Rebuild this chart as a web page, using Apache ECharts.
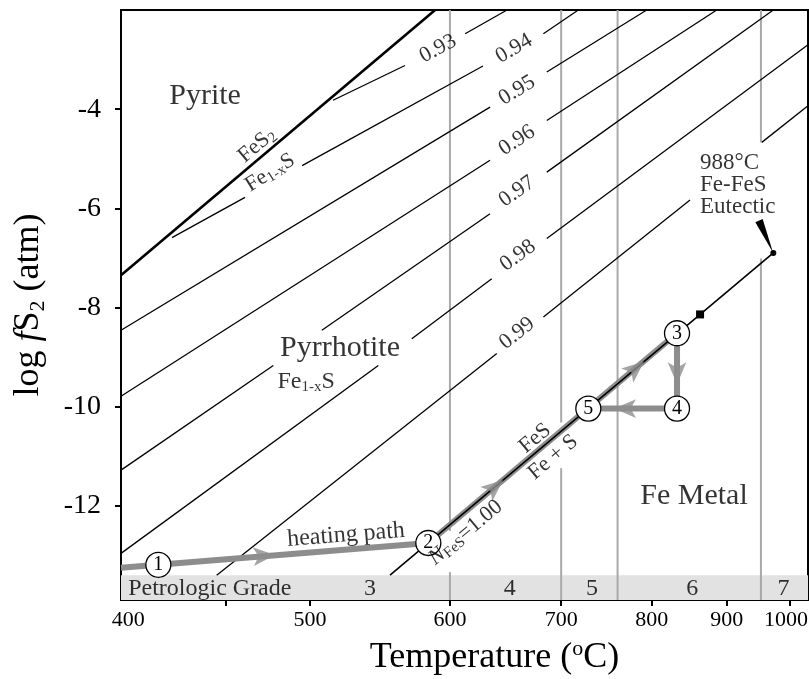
<!DOCTYPE html>
<html>
<head>
<meta charset="utf-8">
<script src="https://cdn.jsdelivr.net/npm/echarts@6/dist/echarts.min.js"></script>
<style>
    html, body { margin: 0; padding: 0; background: #fff; }
    #chart { width: 809px; height: 679px; }
</style>
</head>
<body>
<div id="chart"></div>
<script>
// Temperatures in °C, fugacity as log fS2 (atm)
var tempTicks = [400, 500, 600, 700, 800, 900, 1000];
var minorTempTicks = [450];
var logfTicks = [-12, -10, -8, -6, -4];

var T_MIN = 396.5, T_MAX = 1031.6;
var LOGF_MIN = -13.9, LOGF_MAX = -2.0;
var GRADE_TOP = -13.4;

// petrologic grade bands
var gradeNames = ['3', '4', '5', '6', '7'];
var gradeLabelTemps = [540, 651, 732, 852, 989];
var gradeLine600 = [[[600, -2.0], [600, -12.51]], [[600, -13.34], [600, -13.9]]];
var gradeLine700 = [[[700, -2.0], [700, -10.32]], [[700, -11.24], [700, -13.9]]];
var gradeLine760 = [[[760, -2.0], [760, -13.9]]];
var gradeLine950 = [[[952, -2.0], [952, -4.67]], [[952, -7.01], [952, -13.9]]];

// N_FeS isopleths (segments, broken where labels sit)
var isoNames = ['0.93', '0.94', '0.95', '0.96', '0.97', '0.98', '0.99'];
var iso093 = [[[514.9, -3.82], [565.2, -3.12]], [[612.4, -2.48], [648.6, -2.0]]];
var iso094 = [[[421.6, -6.59], [461.0, -5.78]], [[495.1, -5.14], [627.5, -3.13]], [[682.5, -2.48], [717.5, -2.0]]];
var iso095 = [[[396.5, -8.46], [633.6, -3.96]], [[685.8, -3.25], [794.0, -2.0]]];
var iso096 = [[[396.5, -9.79], [633.6, -5.03]], [[685.8, -4.23], [885.6, -2.0]]];
var iso097 = [[[396.5, -11.28], [477.5, -9.17]], [[507.6, -8.46], [633.6, -6.11]], [[685.8, -5.27], [972.0, -2.0]]];
var iso098 = [[[396.5, -12.96], [545.8, -9.17]], [[570.3, -8.63], [635.1, -7.42]], [[685.8, -6.61], [1031.6, -2.70]]];
var iso099 = [[[445.2, -13.40], [639.5, -8.93]], [[682.5, -8.19], [848.9, -5.83]], [[953.3, -4.67], [1031.6, -3.93]]];
var isoLabelTemps = [590.5, 655.0, 657.7, 657.7, 657.7, 658.6, 657.7];
var isoLabelLogf = [-2.78, -2.78, -3.62, -4.63, -5.66, -6.95, -8.52];

// phase boundaries
var pyriteLine = [[[396.5, -7.35], [588.2, -2.0]]];
var feFesLine = [[[554.2, -13.40], [972.0, -6.90]]];
var eutectic = [972.0, -6.90];
var squarePoint = [862.4, -8.14];

// heating path: start, then points 1..5
var pathTemps = [396.5, 414.7, 582.9, 831.8, 831.8, 728.0];
var pathLogf = [-13.25, -13.19, -12.75, -8.52, -10.04, -10.04];
var arrowTemps = [478.6, 645.1, 790.8, 831.8, 756.0];
var arrowLogf = [-12.99, -11.48, -9.09, -9.55, -10.04];

function toU(t) {
    return 1000 / (t + 273.15);
}

var serif = "'Liberation Serif', 'DejaVu Serif', serif";
var richText = {
    sub: { fontFamily: serif, fontSize: 15, lineHeight: 12, verticalAlign: 'bottom', color: '#000' },
    it: { fontFamily: serif, fontStyle: 'italic', color: '#000' }
};

function segSeries(segs, color, width, z) {
    return {
        type: 'lines',
        coordinateSystem: 'cartesian2d',
        polyline: true,
        silent: true,
        z: z,
        lineStyle: { color: color, width: width, opacity: 1, curveness: 0 },
        data: segs.map(function (s) {
            return { coords: s.map(function (p) { return [toU(p[0]), p[1]]; }) };
        })
    };
}

var chart = echarts.init(document.getElementById('chart'));

var gradeSeries = segSeries(
    gradeLine600.concat(gradeLine700, gradeLine760, gradeLine950), '#a9a9a9', 2, 2);
gradeSeries.markArea = {
    silent: true,
    itemStyle: { color: '#e2e2e2' },
    data: [[{ coord: [toU(T_MAX), LOGF_MIN] }, { coord: [toU(T_MIN), GRADE_TOP] }]]
};
gradeSeries.z = 1;

var isoSeries = segSeries(
    iso093.concat(iso094, iso095, iso096, iso097, iso098, iso099), '#000', 1.3, 3);

var pathPts = pathTemps.map(function (t, i) { return [t, pathLogf[i]]; });
var pathSeries = segSeries([pathPts.slice(0, 3), pathPts.slice(2, 6)], '#8d8d8d', 6, 4);
pathSeries.lineStyle.join = 'miter';

var arrowAngles = [-85.4, -49.8, -49.8, 180, 90];
var arrowSeries = {
    type: 'scatter',
    silent: true,
    z: 6,
    symbol: 'arrow',
    symbolSize: [14, 22],
    itemStyle: { color: '#8d8d8d' },
    data: arrowTemps.map(function (t, i) {
        return { value: [toU(t), arrowLogf[i]], symbolRotate: arrowAngles[i] };
    })
};

var circleSeries = {
    type: 'scatter',
    silent: true,
    z: 8,
    symbol: 'circle',
    symbolSize: 25,
    itemStyle: { color: '#fff', borderColor: '#000', borderWidth: 1.3, opacity: 1 },
    label: {
        show: true, position: 'inside', color: '#000',
        fontFamily: serif, fontSize: 20,
        formatter: function (p) { return p.name; }
    },
    data: pathPts.slice(1).map(function (p, i) {
        return { name: String(i + 1), value: [toU(p[0]), p[1]] };
    })
};

var markerSeries = {
    type: 'scatter',
    silent: true,
    z: 7,
    itemStyle: { color: '#000', opacity: 1 },
    data: [
        { value: [toU(squarePoint[0]), squarePoint[1]], symbol: 'rect', symbolSize: 8 },
        { value: [toU(eutectic[0]), eutectic[1]], symbol: 'circle', symbolSize: 6 },
        { value: [toU(960.1), -6.57], symbol: 'triangle', symbolSize: [8, 35], symbolRotate: -156.4 }
    ]
};

// text placed in data coordinates
function note(text, t, f, opts) {
    var label = {
        show: true, position: 'inside', formatter: text,
        fontFamily: serif, fontSize: 22, lineHeight: 24, color: '#000', rich: richText
    };
    for (var k in opts) label[k] = opts[k];
    return { value: [toU(t), f], label: label };
}

var notes = [
    note('Pyrite', 438.9, -3.74, { fontSize: 30 }),
    note('FeS{sub|2}', 467.9, -4.73, { rotate: 40 }),
    note('Fe{sub|1-x}S', 475.6, -5.28, { rotate: 32 }),
    note('Pyrrhotite', 519.5, -8.82, { fontSize: 30 }),
    note('Fe{sub|1-x}S', 497.6, -9.49, { fontSize: 24, lineHeight: 26 }),
    note('Fe Metal', 854.2, -11.81, { fontSize: 30 }),
    note('988°C\nFe-FeS\nEutectic', 862.4, -5.52, { align: 'left', fontSize: 23, lineHeight: 22 }),
    note('heating path', 523.5, -12.59, { fontSize: 24, rotate: 4.5 }),
    note('{it|N}{sub|FeS}=1.00', 612.9, -12.54, { rotate: 40 }),
    note('FeS', 674.5, -10.64, { rotate: 40 }),
    note('Fe + S', 691.9, -11.02, { rotate: 40 }),
    note('Petrologic Grade', 399.9, -13.68, { align: 'left', fontSize: 24 })
];
gradeNames.forEach(function (g, i) {
    notes.push(note(g, gradeLabelTemps[i], -13.68, { fontSize: 24 }));
});
var isoAngles = [28, 30, 31, 33, 35, 36, 38];
isoNames.forEach(function (n, i) {
    notes.push(note(n, isoLabelTemps[i], isoLabelLogf[i], { rotate: isoAngles[i] }));
});

var noteSeries = {
    type: 'scatter',
    silent: true,
    z: 9,
    symbolSize: 1,
    itemStyle: { color: 'rgba(0,0,0,0)' },
    data: notes
};

var option = {
    animation: false,
    backgroundColor: '#fff',
    grid: {
        left: 121, right: 1, top: 10, bottom: 79,
        outerBoundsMode: 'none',
        containLabel: false,
        show: true, borderColor: '#000', borderWidth: 2, backgroundColor: '#fff'
    },
    xAxis: {
        type: 'value',
        inverse: true,
        min: toU(T_MAX),
        max: toU(T_MIN),
        splitLine: { show: false },
        axisLine: { show: true, lineStyle: { color: '#000', width: 2 } },
        axisTick: {
            customValues: tempTicks.slice(1).concat(minorTempTicks).map(toU),
            length: 6, lineStyle: { color: '#000', width: 2 }
        },
        axisLabel: {
            customValues: tempTicks.map(toU),
            margin: 9,
            color: '#000', fontFamily: serif, fontSize: 22,
            formatter: function (u) {
                var t = Math.round(1000 / u - 273.15);
                return t === 1000 ? '{r|1000}' : String(t);
            },
            rich: { r: { fontFamily: serif, fontSize: 22, color: '#000', padding: [0, 8, 0, 0] } }
        },
        name: 'Temperature ({sup|o}C)',
        nameLocation: 'middle',
        nameGap: 38,
        nameTextStyle: {
            fontFamily: serif, fontSize: 36, lineHeight: 40, color: '#000',
            padding: [0, 0, 0, 60],
            rich: { sup: { fontFamily: serif, fontSize: 22, lineHeight: 16, verticalAlign: 'top', color: '#000' } }
        }
    },
    yAxis: {
        type: 'value',
        min: LOGF_MIN,
        max: LOGF_MAX,
        splitLine: { show: false },
        axisLine: { show: true, lineStyle: { color: '#000', width: 2 } },
        axisTick: { customValues: logfTicks, length: 6, lineStyle: { color: '#000', width: 2 } },
        axisLabel: {
            customValues: logfTicks,
            margin: 20,
            color: '#000', fontFamily: serif, fontSize: 28
        },
        name: 'log {it|f}S{sub|2} (atm)',
        nameLocation: 'middle',
        nameRotate: 90,
        nameGap: 72,
        nameTextStyle: {
            fontFamily: serif, fontSize: 36, lineHeight: 40, color: '#000',
            rich: {
                it: { fontFamily: serif, fontSize: 36, fontStyle: 'italic', color: '#000' },
                sub: { fontFamily: serif, fontSize: 22, lineHeight: 16, verticalAlign: 'bottom', color: '#000' }
            }
        }
    },
    series: [
        gradeSeries,
        isoSeries,
        segSeries(pyriteLine, '#000', 2.6, 3),
        pathSeries,
        segSeries(feFesLine, '#000', 1.6, 5),
        arrowSeries,
        markerSeries,
        circleSeries,
        noteSeries
    ]
};

chart.setOption(option);
</script>
</body>
</html>
